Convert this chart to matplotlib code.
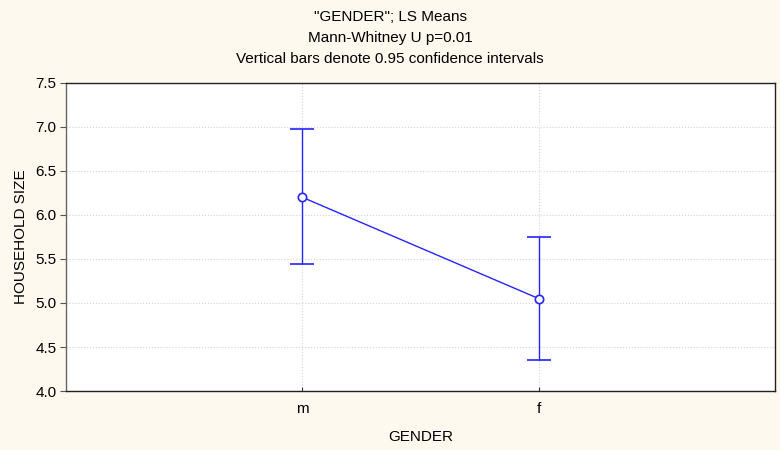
import matplotlib.pyplot as plt

# LS means with 0.95 confidence limits
categories = ['m', 'f']
means = [6.2, 5.05]
ci_low = [5.44, 4.35]
ci_high = [6.98, 5.75]
yticks = [4.0, 4.5, 5.0, 5.5, 6.0, 6.5, 7.0, 7.5]

plt.rcParams['font.family'] = ['Liberation Sans', 'DejaVu Sans']

fig = plt.figure(figsize=(7.8, 4.5), dpi=100, facecolor='#fdf9ee')
ax = fig.add_axes([0.0846, 0.131, 0.909, 0.685])
ax.set_facecolor('white')

x = list(range(len(categories)))
err = [[m - lo for m, lo in zip(means, ci_low)],
       [hi - m for m, hi in zip(means, ci_high)]]

ax.errorbar(x, means, yerr=err, color='#2424ff', lw=1, capsize=8.5, capthick=1.3,
            marker='o', markersize=6, markerfacecolor='white', markeredgecolor='#2424ff',
            markeredgewidth=1.2, zorder=3)

ax.set_xlim(-1, 2)
ax.set_ylim(4.0, 7.5)
ax.set_xticks(x)
ax.set_xticklabels(categories)
ax.set_yticks(yticks)
ax.set_yticklabels([f'{v:.1f}' for v in yticks])
ax.grid(True, color='#d4d4d4', linestyle=':', linewidth=0.8)
ax.tick_params(axis='y', labelsize=11, length=4, color='#555555', pad=3)
ax.tick_params(axis='x', labelsize=11, length=3, direction='in', color='#333333', pad=8)
for s in ax.spines.values():
    s.set_color('#222222')
    s.set_linewidth(1)
ax.spines['left'].set_color('#666666')

ax.set_xlabel('GENDER', fontsize=11, labelpad=10)
ax.set_ylabel('HOUSEHOLD SIZE', fontsize=11, labelpad=5)

fig.text(0.5, 1 - 17 / 450, '"GENDER"; LS Means', ha='center', va='center', fontsize=11)
fig.text(0.5, 1 - 38 / 450, 'Mann-Whitney U p=0.01', ha='center', va='center', fontsize=11)
fig.text(0.5, 1 - 59 / 450, 'Vertical bars denote 0.95 confidence intervals',
         ha='center', va='center', fontsize=11)

fig.savefig('out.png', dpi=100, facecolor=fig.get_facecolor())
